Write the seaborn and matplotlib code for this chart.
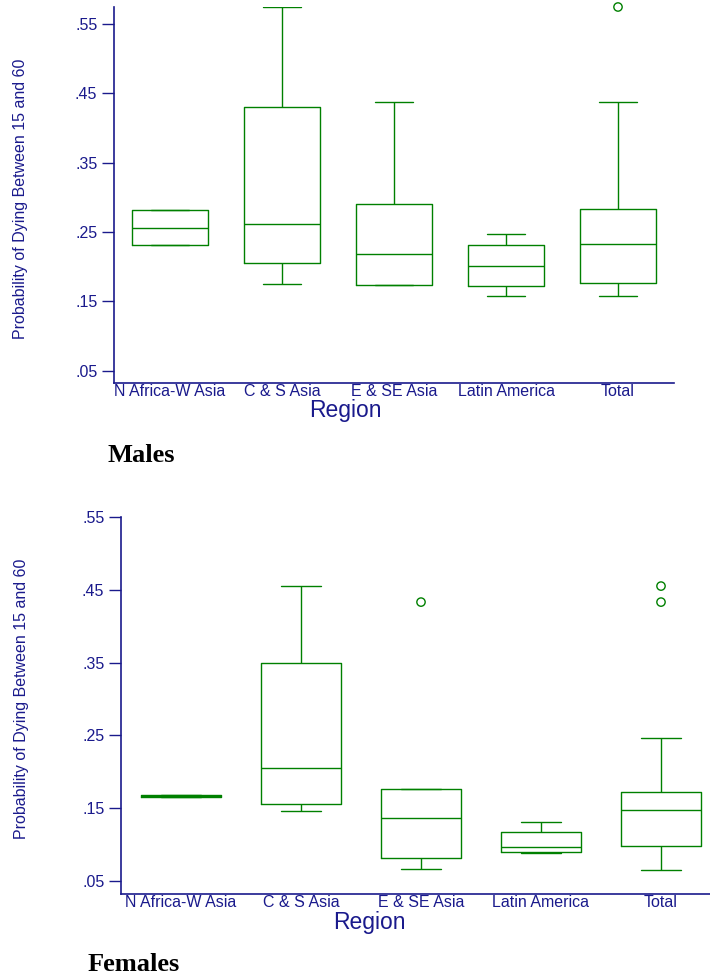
import pandas as pd
import matplotlib
matplotlib.use("Agg")
import matplotlib.pyplot as plt
from matplotlib.collections import PathCollection
import seaborn as sns

# regions on the x axis
regions = ["N Africa-W Asia", "C & S Asia", "E & SE Asia", "Latin America", "Total"]

# males: lower whisker, q1, median, q3, upper whisker
m_lo = [0.2312, 0.1754, 0.1738, 0.1581, 0.1581]
m_q1 = [0.2312, 0.2057, 0.1740, 0.1721, 0.1760]
m_med = [0.2562, 0.2611, 0.2183, 0.2010, 0.2331]
m_q3 = [0.2817, 0.4303, 0.2900, 0.2317, 0.2836]
m_hi = [0.2817, 0.5750, 0.4379, 0.2467, 0.4379]
m_out_region = ["Total"]
m_out_value = [0.5745]

# females
f_lo = [0.1650, 0.1462, 0.0660, 0.0890, 0.0655]
f_q1 = [0.1650, 0.1554, 0.0811, 0.0894, 0.0977]
f_med = [0.1665, 0.2053, 0.1366, 0.0971, 0.1471]
f_q3 = [0.1686, 0.3500, 0.1768, 0.1173, 0.1727]
f_hi = [0.1686, 0.4551, 0.1768, 0.1306, 0.2461]
f_out_region = ["E & SE Asia", "Total", "Total"]
f_out_value = [0.4331, 0.4551, 0.4331]

yticks = [0.05, 0.15, 0.25, 0.35, 0.45, 0.55]
ytick_labels = [".05", ".15", ".25", ".35", ".45", ".55"]

green = "#008000"
navy = "#1a1a8c"

sns.set_style("ticks")
plt.rcParams["font.family"] = ["Liberation Sans", "DejaVu Sans"]


def long_table(lo, q1, med, q3, hi):
    rows = []
    for i, r in enumerate(regions):
        for v in (lo[i], q1[i], med[i], q3[i], hi[i]):
            rows.append({"Region": r, "value": v})
    return pd.DataFrame(rows)


def draw_panel(ax, df, out_df, ylim):
    sns.boxplot(data=df, x="Region", y="value", order=regions, whis=(0, 100),
                width=0.67, fill=False, color=green, linewidth=1.0,
                showfliers=False, ax=ax)
    sns.stripplot(data=out_df, x="Region", y="value", order=regions, jitter=False,
                  color=green, marker="o", size=6, linewidth=1.0, edgecolor=green,
                  ax=ax)
    # hollow outlier circles, not clipped at the top edge; drop empty ones
    for c in list(ax.collections):
        if isinstance(c, PathCollection):
            if len(c.get_offsets()) == 0:
                c.remove()
                continue
            c.set_facecolor("none")
            c.set_edgecolor(green)
            c.set_clip_on(False)
    ax.set_xlim(-0.5, 4.5)
    ax.set_ylim(*ylim)
    ax.set_yticks(yticks)
    ax.set_yticklabels(ytick_labels)
    ax.set_xlabel("")
    ax.set_ylabel("")
    ax.tick_params(axis="x", length=0, pad=1, labelsize=11.5, colors=navy)
    ax.tick_params(axis="y", length=9, width=1.0, pad=3, labelsize=11.5,
                   colors=navy)
    sns.despine(ax=ax)
    for s in ("left", "bottom"):
        ax.spines[s].set_color(navy)
        ax.spines[s].set_linewidth(1.2)


fig = plt.figure(figsize=(7.1, 9.76), dpi=100)

ax1 = fig.add_axes([114 / 710, 1 - 383 / 976, 560 / 710, 376 / 976])
males = long_table(m_lo, m_q1, m_med, m_q3, m_hi)
males_out = pd.DataFrame({"Region": m_out_region, "value": m_out_value})
draw_panel(ax1, males, males_out, (0.0322, 0.5745))

ax2 = fig.add_axes([121 / 710, 1 - 894 / 976, 600 / 710, 377 / 976])
females = long_table(f_lo, f_q1, f_med, f_q3, f_hi)
females_out = pd.DataFrame({"Region": f_out_region, "value": f_out_value})
draw_panel(ax2, females, females_out, (0.0321, 0.55))

ylab = "Probability of Dying Between 15 and 60"
fig.text(21 / 710, 1 - 199 / 976, ylab, rotation=90, ha="center", va="center",
         fontsize=11.5, color=navy)
fig.text(22 / 710, 1 - 699 / 976, ylab, rotation=90, ha="center", va="center",
         fontsize=11.5, color=navy)

fig.text(345 / 710, 1 - 411 / 976, "Region", ha="center", va="center",
         fontsize=16.5, color=navy)
fig.text(369 / 710, 1 - 922 / 976, "Region", ha="center", va="center",
         fontsize=16.5, color=navy)

fig.text(107 / 710, 1 - 462 / 976, "Males", ha="left", va="baseline",
         fontsize=19, fontweight="bold", family="Liberation Serif", color="black")
fig.text(88 / 710, 1 - 971 / 976, "Females", ha="left", va="baseline",
         fontsize=19, fontweight="bold", family="Liberation Serif", color="black")

fig.savefig("out.png", dpi=100)
